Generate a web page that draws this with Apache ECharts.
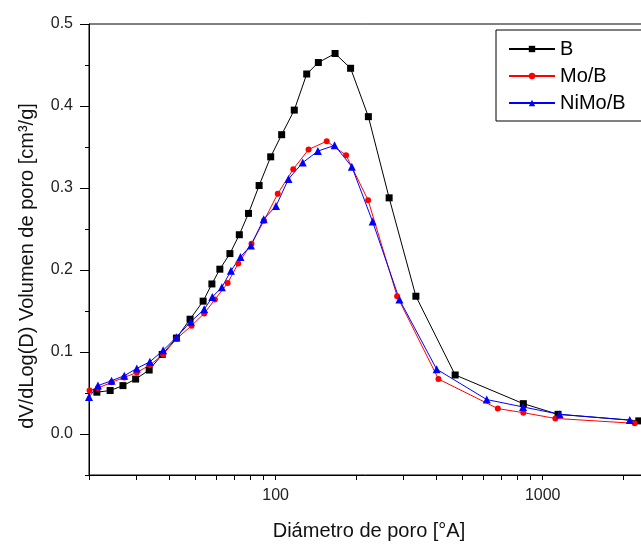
<!DOCTYPE html>
<html>
<head>
<meta charset="utf-8">
<script src="https://cdn.jsdelivr.net/npm/echarts@6/dist/echarts.min.js"></script>
<style>
  html, body { margin: 0; padding: 0; background: #fff; }
  #main { width: 641px; height: 544px; }
</style>
</head>
<body>
<div id="main"></div>
<script>
// diametro de poro [A] y dV/dLog(D)
var bDiam = [21.4, 24.0, 26.8, 29.9, 33.6, 37.6, 42.5, 47.8, 53.5, 57.7, 61.8, 67.4, 73.1, 79.1, 86.7, 95.8, 105.3, 117.4, 130.7, 144.5, 166.9, 190.8, 222.4, 266, 335, 470, 846, 1141, 2289];
var bVol = [0.051, 0.053, 0.059, 0.067, 0.078, 0.097, 0.117, 0.140, 0.162, 0.183, 0.201, 0.220, 0.243, 0.269, 0.303, 0.338, 0.365, 0.395, 0.439, 0.453, 0.464, 0.446, 0.387, 0.288, 0.168, 0.072, 0.037, 0.024, 0.016];

var moDiam = [20.1, 21.6, 24.3, 27.1, 30.2, 33.8, 37.9, 42.5, 48.4, 54.0, 59.2, 66.1, 72.4, 81.2, 90.4, 101.8, 116.4, 132.8, 155.3, 183.5, 221.9, 285, 407, 679, 846, 1115, 2209];
var moVol = [0.053, 0.056, 0.063, 0.069, 0.075, 0.084, 0.097, 0.116, 0.132, 0.147, 0.164, 0.184, 0.208, 0.232, 0.260, 0.293, 0.323, 0.347, 0.357, 0.340, 0.285, 0.168, 0.067, 0.031, 0.026, 0.019, 0.013];

var nimoDiam = [20.0, 21.6, 24.3, 27.1, 30.2, 33.8, 37.9, 42.5, 48.1, 54.0, 57.9, 62.9, 68.0, 73.8, 80.8, 90.2, 100.3, 111.7, 126.3, 143.9, 166.2, 192.8, 230.7, 290.7, 400.7, 617, 844, 1157, 2118];
var nimoVol = [0.045, 0.059, 0.065, 0.071, 0.080, 0.088, 0.102, 0.118, 0.137, 0.152, 0.167, 0.179, 0.199, 0.216, 0.230, 0.262, 0.278, 0.311, 0.331, 0.345, 0.352, 0.326, 0.259, 0.164, 0.079, 0.042, 0.033, 0.024, 0.017];

var xTicks = [20, 30, 40, 50, 60, 70, 80, 90, 100, 200, 300, 400, 500, 600, 700, 800, 900, 1000, 2000];
var xLabels = [100, 1000];
var yLabels = [0.0, 0.1, 0.2, 0.3, 0.4, 0.5];

function pairs(xs, ys) {
    var out = [];
    for (var i = 0; i < xs.length; i++) {
        out.push([xs[i], ys[i]]);
    }
    return out;
}

var font = 'Liberation Sans, Arial, sans-serif';
var myChart = echarts.init(document.getElementById('main'));

var option = {
    animation: false,
    grid: {
        // el marco derecho queda fuera de la imagen
        left: 89, right: -8, top: 24, bottom: 69,
        outerBoundsMode: 'none',
        containLabel: false,
        show: true, borderColor: '#000', borderWidth: 1
    },
    legend: {
        left: 496, top: 30,
        orient: 'vertical',
        padding: [9, 16, 8, 12],
        itemGap: 7,
        itemWidth: 46,
        itemHeight: 8,
        borderColor: '#000',
        borderWidth: 1,
        borderRadius: 0,
        backgroundColor: '#fff',
        textStyle: { fontFamily: font, fontSize: 20, color: '#000' },
        data: ['B', 'Mo/B', 'NiMo/B']
    },
    xAxis: {
        type: 'log',
        logBase: 10,
        position: 'bottom',
        min: 20,
        max: 2500,
        name: 'Diámetro de poro [°A]',
        nameLocation: 'middle',
        nameGap: 46,
        nameTextStyle: { fontFamily: font, fontSize: 20, color: '#111' },
        axisLine: { show: true, onZero: false, lineStyle: { color: '#000', width: 1 } },
        axisTick: { show: true, customValues: xTicks, length: 5, lineStyle: { color: '#000' } },
        axisLabel: {
            customValues: xLabels,
            margin: 13,
            fontFamily: font, fontSize: 16, color: '#222',
            formatter: function (v) { return String(Math.round(v)); }
        },
        splitLine: { show: false },
        minorTick: { show: false }
    },
    yAxis: [{
        type: 'value',
        position: 'left',
        min: -0.05,
        max: 0.5,
        name: 'dV/dLog(D) Volumen de poro [cm³/g]',
        nameLocation: 'middle',
        nameGap: 52,
        nameRotate: 90,
        nameTextStyle: { fontFamily: font, fontSize: 20, color: '#111', padding: [0, 33, 0, 0] },
        axisLine: { show: true, onZero: false, lineStyle: { color: '#000', width: 1 } },
        axisTick: { customValues: yLabels, length: 9, lineStyle: { color: '#000' } },
        axisLabel: {
            customValues: yLabels,
            margin: 16,
            fontFamily: font, fontSize: 16, color: '#222',
            formatter: function (v) { return v.toFixed(1); }
        },
        splitLine: { show: false }
    }, {
        type: 'value',
        position: 'left',
        min: -0.05,
        max: 0.5,
        interval: 0.05,
        axisLine: { show: false, onZero: false },
        axisTick: { show: true, length: 4, lineStyle: { color: '#000' } },
        axisLabel: { show: false },
        splitLine: { show: false }
    }],
    series: [{
        name: 'B',
        type: 'line',
        data: pairs(bDiam, bVol),
        symbol: 'rect',
        symbolSize: 7,
        color: '#000000',
        lineStyle: { width: 1 },
        itemStyle: { color: '#000000' }
    }, {
        name: 'Mo/B',
        type: 'line',
        data: pairs(moDiam, moVol),
        symbol: 'circle',
        symbolSize: 6,
        color: '#ff0000',
        lineStyle: { width: 1 },
        itemStyle: { color: '#ff0000' }
    }, {
        name: 'NiMo/B',
        type: 'line',
        data: pairs(nimoDiam, nimoVol),
        symbol: 'triangle',
        symbolSize: 8,
        color: '#0000ff',
        lineStyle: { width: 1 },
        itemStyle: { color: '#0000ff' }
    }]
};

myChart.setOption(option);
</script>
</body>
</html>
